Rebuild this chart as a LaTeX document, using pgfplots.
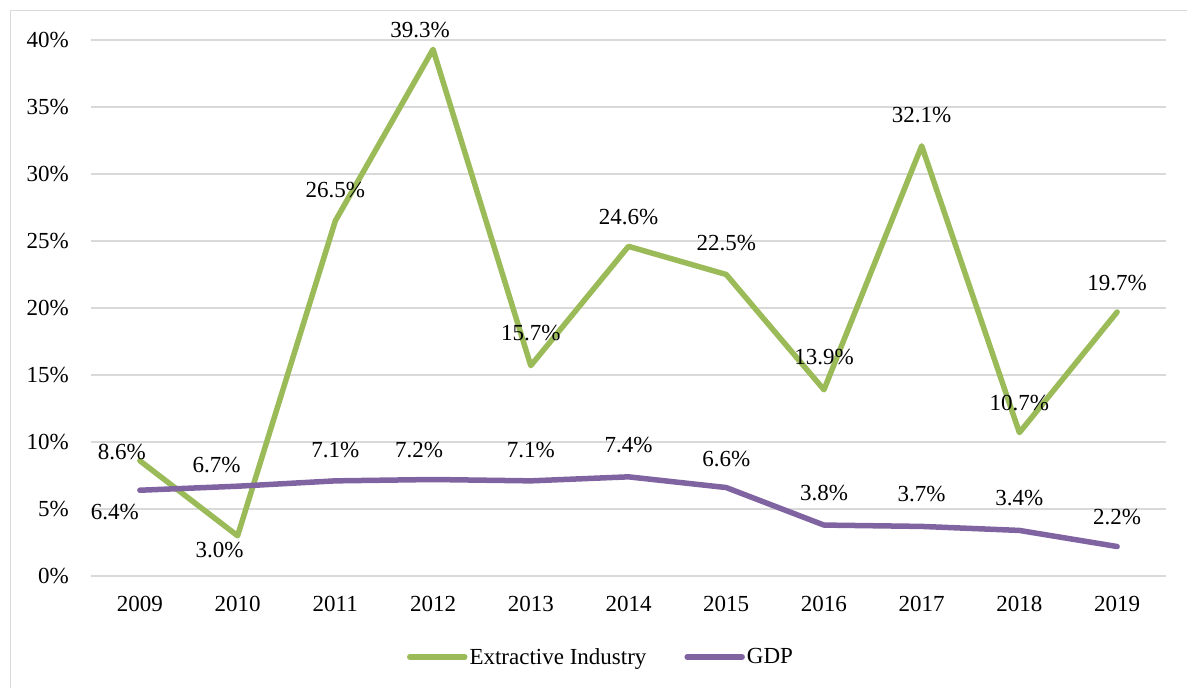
\documentclass[border=0pt]{standalone}
\usepackage{fontspec}
\setmainfont{Liberation Serif}
\usepackage{pgfplots}
\usepackage{pgfplotstable}
\pgfplotsset{compat=1.18}

\definecolor{extract}{HTML}{9BBB59}
\definecolor{gdp}{HTML}{8064A2}
\definecolor{gridgray}{HTML}{D9D9D9}

% x: category index (2009 = 0), y: growth in %, dx/dy: label offset in pt
\pgfplotstableread{
x  y     dx   dy
0  8.6   -18   9
1  3.0   -18  -14
2  26.5    0   31
3  39.3  -13   19
4  15.7    0   33
5  24.6    0   29
6  22.5    0   31
7  13.9    0   33
8  32.1    0   31
9  10.7    0   30
10 19.7    0   29
}\extractive

\pgfplotstableread{
x  y    dx   dy
0  6.4  -25  -22
1  6.7  -21   21
2  7.1    0   31
3  7.2  -14   30
4  7.1    0   31
5  7.4    0   32
6  6.6    0   29
7  3.8    0   32
8  3.7    0   32
9  3.4    0   32
10 2.2    0   30
}\gdp

\begin{document}
\begin{tikzpicture}[font=\fontsize{23}{28}\selectfont]
\useasboundingbox (0,0) rectangle (1187pt,688pt);
\draw[gridgray, line width=1.5pt] (10.5pt,0) -- (10.5pt,677.5pt) -- (1187pt,677.5pt);
\begin{axis}[
    at={(91pt,112pt)}, anchor=south west,
    scale only axis,
    width=1075pt, height=536pt,
    xmin=-0.5, xmax=10.5,
    ymin=0, ymax=40,
    clip=false,
    axis line style={draw=none},
    major tick length=0pt,
    xtick={0,...,10},
    xticklabels={2009,2010,2011,2012,2013,2014,2015,2016,2017,2018,2019},
    ytick={0,5,...,40},
    yticklabel={\pgfmathprintnumber{\tick}\%},
    /pgf/number format/assume math mode=true,
    xticklabel style={anchor=base, yshift=-36pt, inner sep=0pt},
    yticklabel style={anchor=base east, xshift=-22pt, yshift=-8pt, inner sep=0pt},
    ymajorgrids,
    major grid style={gridgray, line width=1.5pt},
    point meta=y,
    nodes near coords={\pgfmathprintnumber[fixed,fixed zerofill,precision=1]{\pgfplotspointmeta}\%},
    visualization depends on={\thisrow{dx}\as\labdx},
    visualization depends on={\thisrow{dy}\as\labdy},
    nodes near coords style={anchor=center, inner sep=0pt, xshift=\labdx pt, yshift=\labdy pt, text=black},
    legend columns=2,
    legend style={draw=none, fill=none, at={(0.4744,-0.151)}, anchor=center,
        /tikz/every even column/.append style={column sep=36pt},
        font=\fontsize{23}{28}\selectfont, inner sep=0pt},
    legend image code/.code={\draw[#1, line cap=round] (0pt,0pt) -- (55pt,0pt);},
]
\addplot[extract, line width=5.5pt, line join=round, line cap=round] table[x=x, y=y] {\extractive};
\addlegendentry{Extractive Industry}
\addplot[gdp, line width=5.5pt, line join=round, line cap=round] table[x=x, y=y] {\gdp};
\addlegendentry{GDP}
\end{axis}
\end{tikzpicture}
\end{document}
